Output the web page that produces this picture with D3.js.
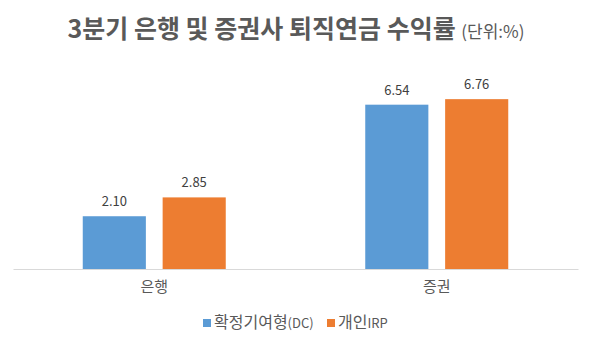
<!DOCTYPE html>
<html>
<head>
<meta charset="utf-8">
<script src="https://cdnjs.cloudflare.com/ajax/libs/d3/7.8.5/d3.min.js"></script>
<style>
body{margin:0;background:#fff;}
svg{display:block;font-family:"Noto Sans CJK KR","Noto Sans",sans-serif;}
</style>
</head>
<body>
<svg id="chart" width="595" height="353"></svg>
<script>
var categories=["은행","증권"];
var seriesNames=["확정기여형(DC)","개인IRP"];
var dcValues=[2.10,6.54];
var irpValues=[2.85,6.76];
var colors=["#5b9bd5","#ed7d31"];

var svg=d3.select("#chart");
var baseY=269;

var x0=d3.scaleBand().domain(categories).range([13,578]).padding(0);
var x1=d3.scaleBand().domain(seriesNames).range([0,143]).paddingInner(0.21);
var y=d3.scaleLinear().domain([0,8]).range([baseY,baseY-201]);

//title
var title=svg.append("text")
	.attr("x",296).attr("y",38)
	.attr("text-anchor","middle")
	.attr("fill","#595959");
title.append("tspan").attr("font-size","25px").attr("font-weight","bold").text("3분기 은행 및 증권사 퇴직연금 수익률 ");
title.append("tspan").attr("font-size","17px").text("(단위:%)");

var rows=categories.map(function(c,i){
	return {cat:c,vals:[{s:seriesNames[0],v:dcValues[i],c:colors[0]},{s:seriesNames[1],v:irpValues[i],c:colors[1]}]};
});

var groups=svg.selectAll("g.grp").data(rows).enter().append("g")
	.attr("class","grp")
	.attr("transform",function(d){return "translate("+(x0(d.cat)+x0.bandwidth()/2-71.5)+",0)";});

groups.selectAll("rect").data(function(d){return d.vals;}).enter().append("rect")
	.attr("x",function(d){return x1(d.s);})
	.attr("width",x1.bandwidth())
	.attr("y",function(d){return y(d.v);})
	.attr("height",function(d){return baseY-y(d.v);})
	.attr("fill",function(d){return d.c;});

groups.selectAll("text.val").data(function(d){return d.vals;}).enter().append("text")
	.attr("class","val")
	.attr("x",function(d){return x1(d.s)+x1.bandwidth()/2;})
	.attr("y",function(d){return y(d.v)-10;})
	.attr("text-anchor","middle")
	.attr("font-size","13px")
	.attr("fill","#404040")
	.text(function(d){return d.v.toFixed(2);});

//axis
var xAxis=svg.append("g")
	.attr("transform","translate(0,"+baseY+")")
	.call(d3.axisBottom(x0).tickSize(0).tickPadding(12));
xAxis.select(".domain").attr("stroke","#d9d9d9");
xAxis.selectAll("text")
	.attr("font-size","15px")
	.attr("fill","#595959")
	.style("font-family","'Noto Sans CJK KR',sans-serif");

//legend - korean part bigger, latin part smaller like the original
var legend=svg.append("g").attr("transform","translate(203,328)");
var lx=[0,124];
var legendParts=[["확정기여형","(DC)"],["개인","IRP"]];
seriesNames.forEach(function(s,i){
	var g=legend.append("g").attr("transform","translate("+lx[i]+",0)");
	g.append("rect").attr("x",0).attr("y",-9).attr("width",8).attr("height",8).attr("fill",colors[i]);
	var t=g.append("text").attr("x",11).attr("y",0).attr("fill","#595959");
	t.append("tspan").attr("font-size","16px").text(legendParts[i][0]);
	t.append("tspan").attr("font-size","13px").text(legendParts[i][1]);
});
</script>
</body>
</html>
